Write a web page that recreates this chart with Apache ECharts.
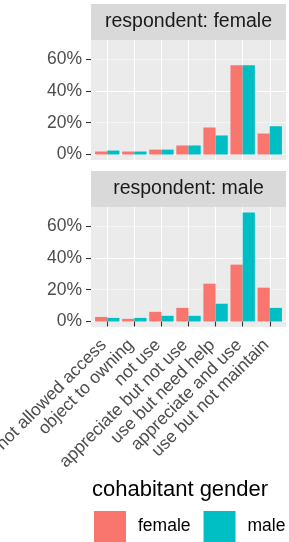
<!DOCTYPE html>
<html>
<head>
<meta charset="utf-8">
<script src="https://cdn.jsdelivr.net/npm/echarts@6/dist/echarts.min.js"></script>
<style>
html, body { margin: 0; padding: 0; background: #fff; }
#chart { width: 289px; height: 542px; }
</style>
</head>
<body>
<div id="chart"></div>
<script>
// data (percent)
const categories = ['not allowed access', 'object to owning', 'not use', 'appreciate but not use',
    'use but need help', 'appreciate and use', 'use but not maintain'];
const panelTitles = ['respondent: female', 'respondent: male'];
const groups = ['female', 'male'];
const femaleRespFemale = [1.9, 1.9, 3.1, 5.7, 17.0, 56.1, 13.2];
const femaleRespMale = [2.5, 1.9, 3.1, 5.7, 12.0, 56.1, 17.8];
const maleRespFemale = [2.9, 1.7, 6.1, 8.6, 23.8, 35.8, 21.3];
const maleRespMale = [2.3, 2.3, 3.6, 3.6, 11.2, 68.6, 8.6];
const yTicks = [0, 20, 40, 60];

const panelData = [[femaleRespFemale, femaleRespMale], [maleRespFemale, maleRespMale]];
const colors = ['#F8766D', '#00BFC4'];
const FONT = 'Liberation Sans, Arial, Helvetica, sans-serif';

// layout (ggplot-like panels)
const panelLeft = 91, panelW = 195, panelH = 120;
const panelTops = [40, 207];
const stripH = 36;
const yMin = -3.43, yMax = 72.03;
const step = panelW / (categories.length + 0.2);
const dataLeft = panelLeft + 0.6 * step;
const dataW = (categories.length - 1) * step;
const pxPerUnit = panelH / (yMax - yMin);

const chart = echarts.init(document.getElementById('chart'));

const grid = [], xAxis = [], yAxis = [], series = [], elements = [];

panelTops.forEach((top, p) => {
    const bgTop = top + (yMax - 70) * pxPerUnit;
    grid.push({ left: panelLeft, width: panelW, top: bgTop, height: 70 * pxPerUnit, outerBoundsMode: 'none' });
    grid.push({ left: dataLeft, width: dataW, top: top, height: panelH, outerBoundsMode: 'none' });

    xAxis.push({ gridIndex: 2 * p, type: 'value', show: false });
    xAxis.push({
        gridIndex: 2 * p + 1, type: 'category', data: categories, boundaryGap: false,
        axisLine: { show: false },
        axisTick: { show: p === 1, length: 5, lineStyle: { color: '#333333', width: 1.1 } },
        axisLabel: {
            show: p === 1, interval: 0, rotate: 45, margin: 12,
            formatter: v => v + ' ',
            fontSize: 17.5, color: '#4D4D4D', fontFamily: FONT
        },
        splitLine: { show: true, lineStyle: { color: '#FFFFFF', width: 1.1 } }
    });

    yAxis.push({
        gridIndex: 2 * p, type: 'value', min: 0, max: 70, interval: 10,
        axisLine: { show: false },
        axisTick: { show: true, customValues: yTicks, length: 5, lineStyle: { color: '#333333', width: 1.1 } },
        axisLabel: {
            customValues: yTicks, formatter: '{value}%', margin: 9,
            fontSize: 17.5, color: '#4D4D4D', fontFamily: FONT
        },
        splitLine: { show: true, lineStyle: { color: ['#FFFFFF', '#F4F4F4'], width: 1.1 } }
    });
    yAxis.push({ gridIndex: 2 * p + 1, type: 'value', min: yMin, max: yMax, show: false });

    groups.forEach((g, i) => {
        series.push({
            type: 'bar', name: g, xAxisIndex: 2 * p + 1, yAxisIndex: 2 * p + 1,
            data: panelData[p][i], barGap: '0%', barCategoryGap: '10%', clip: false,
            itemStyle: { color: colors[i] }
        });
    });

    // panel background + strip
    elements.push({
        type: 'rect', z: -1, silent: true,
        shape: { x: panelLeft, y: top, width: panelW, height: panelH },
        style: { fill: '#EBEBEB' }
    });
    elements.push({
        type: 'rect', z: 10, silent: true,
        shape: { x: panelLeft, y: top - stripH, width: panelW, height: stripH },
        style: { fill: '#D9D9D9' }
    });
    elements.push({
        type: 'text', z: 11, silent: true,
        x: panelLeft + panelW / 2, y: top - stripH / 2,
        style: {
            text: panelTitles[p], fill: '#1A1A1A', fontSize: 19.5, fontFamily: FONT,
            align: 'center', verticalAlign: 'middle'
        }
    });
});

chart.setOption({
    animation: false,
    backgroundColor: '#FFFFFF',
    title: {
        text: 'cohabitant gender', left: 92, top: 479, padding: 0,
        textStyle: { fontSize: 22, fontWeight: 'normal', color: '#000000', fontFamily: FONT }
    },
    legend: {
        data: groups, left: 94, top: 511, width: 195, padding: 0, icon: 'rect',
        itemWidth: 32, itemHeight: 31, itemGap: 13,
        textStyle: { fontSize: 17.5, color: '#000000', fontFamily: FONT, padding: [0, 0, 0, 7] }
    },
    graphic: { elements: elements },
    grid: grid,
    xAxis: xAxis,
    yAxis: yAxis,
    series: series
});
</script>
</body>
</html>
